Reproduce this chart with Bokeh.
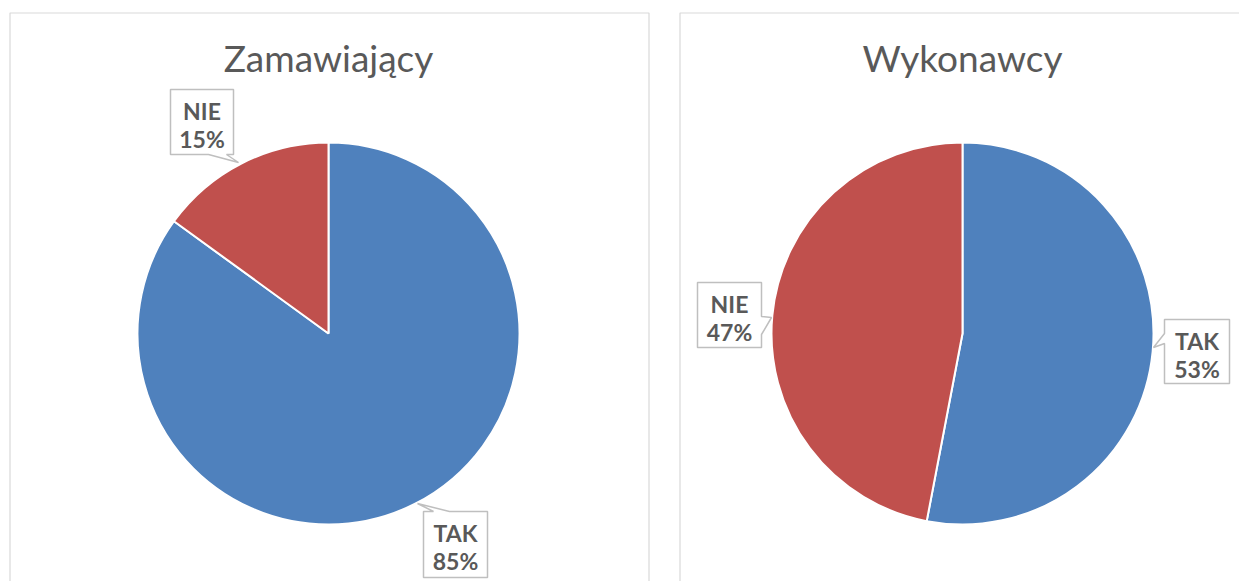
import math
from bokeh.plotting import figure
from bokeh.models import Range1d
from bokeh.core.properties import value
from bokeh.embed import file_html
from bokeh.resources import INLINE

# ---- data ----
groups = ["Zamawiający", "Wykonawcy"]
categories = ["TAK", "NIE"]
zamawiajacy = [85, 15]
wykonawcy = [53, 47]
colors = ["#4F81BD", "#C0504D"]

W, H = 1239, 581
OFF = 0


def sy(y):
    return (H + OFF) - y


p = figure(width=W, height=H, x_range=Range1d(OFF, OFF + W), y_range=Range1d(0, H),
           output_backend="svg", toolbar_location=None, min_border=0,
           x_axis_location=None, y_axis_location=None)
p.outline_line_color = None
p.xgrid.visible = False
p.ygrid.visible = False
p.background_fill_color = "white"
p.border_fill_color = "white"

# panel borders
panels = [(9.5, 648.5), (679.5, 1300)]
for l, r in panels:
    p.quad(left=[l], right=[r], top=[sy(12.5)], bottom=[sy(640)],
           fill_color=None, line_color="#D9D9D9", line_width=1.2)

font = value("Lato")
txt_col = "#595959"

centers = [(328, 333), (962, 333)]
radius = 191
series = [zamawiajacy, wykonawcy]

for (cx, cy), vals, title in zip(centers, series, groups):
    total = float(sum(vals))
    start = math.pi / 2
    for v, c in zip(vals, colors):
        sweep = 2 * math.pi * v / total
        p.wedge(x=[cx], y=[sy(cy)], radius=radius,
                start_angle=[start - sweep], end_angle=[start],
                fill_color=c, line_color="white", line_width=2)
        start -= sweep
    p.text(x=[cx], y=[sy(57)], text=[title], text_font=font, text_font_size="37px",
           text_color=txt_col, text_align="center", text_baseline="middle")

# data label callouts: box (l, t, r, b), pointer side, base1, base2, tip
labels = [
    dict(cat=1, s=0, box=(170, 89, 233, 154), side="bottom", base=(208, 226), tip=(238, 162)),
    dict(cat=0, s=0, box=(423, 511, 487, 577), side="top", base=(433, 449), tip=(417, 503)),
    dict(cat=1, s=1, box=(697, 282, 761, 347), side="right", base=(316, 334), tip=(771, 317)),
    dict(cat=0, s=1, box=(1164, 319, 1229, 383), side="left", base=(333, 343), tip=(1153, 347)),
]

for lab in labels:
    l, t, r, b = lab["box"]
    b1, b2 = lab["base"]
    tx, ty = lab["tip"]
    if lab["side"] == "bottom":
        pts = [(l, t), (r, t), (r, b), (b2, b), (tx, ty), (b1, b), (l, b)]
    elif lab["side"] == "top":
        pts = [(l, t), (b1, t), (tx, ty), (b2, t), (r, t), (r, b), (l, b)]
    elif lab["side"] == "right":
        pts = [(l, t), (r, t), (r, b1), (tx, ty), (r, b2), (r, b), (l, b)]
    else:
        pts = [(l, t), (r, t), (r, b), (l, b), (l, b2), (tx, ty), (l, b1)]
    p.patch(x=[q[0] for q in pts], y=[sy(q[1]) for q in pts],
            fill_color="white", line_color="#BFBFBF", line_width=1.5)
    vals = series[lab["s"]]
    pct = round(100 * vals[lab["cat"]] / sum(vals))
    cxl = (l + r) / 2
    p.text(x=[cxl, cxl], y=[sy(t + 21), sy(t + 49)],
           text=[categories[lab["cat"]], f"{pct}%"], text_font=font,
           text_font_size="23px", text_font_style="bold", text_color=txt_col,
           text_align="center", text_baseline="middle")

open("out.html", "w").write(file_html(p, INLINE))
